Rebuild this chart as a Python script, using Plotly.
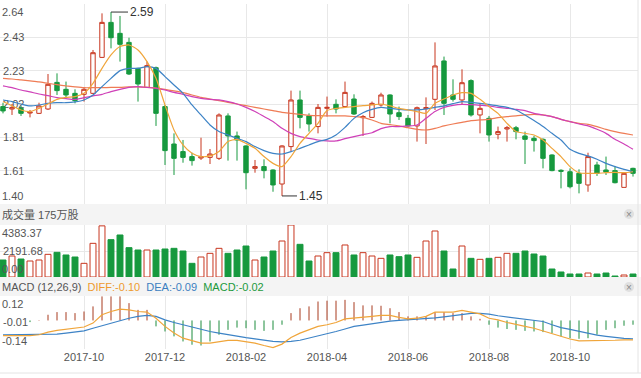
import numpy as np
import plotly.graph_objects as go

# ---------------- data (weekly bars) ----------------
weeks = list(range(71))
open_ = [2.004,1.989,1.993,1.964,1.962,1.989,2.154,2.111,2.086,2.080,
         2.086,2.309,2.526,2.458,2.402,2.241,2.123,2.245,2.004,1.772,
         1.725,1.694,1.685,1.689,1.683,1.946,1.822,1.760,1.621,1.632,
         1.611,1.524,1.756,2.045,1.946,1.880,1.993,2.018,2.004,2.051,
         1.935,1.937,2.014,2.076,1.966,1.931,1.884,1.991,2.049,2.287,
         2.076,2.045,2.165,1.952,1.931,1.832,1.865,1.873,1.822,1.807,
         1.801,1.704,1.609,1.600,1.590,1.518,1.642,1.611,1.607,1.503,
         1.621]
high = [2.028,2.020,2.008,1.983,2.028,2.206,2.210,2.159,2.111,2.123,
        2.355,2.582,2.590,2.566,2.431,2.245,2.283,2.252,2.014,1.838,
        1.797,1.718,1.811,1.741,1.962,1.962,1.849,1.764,1.673,1.677,
        1.615,1.764,2.103,2.103,1.962,2.020,2.066,2.049,2.159,2.080,
        1.952,2.035,2.090,2.080,2.004,1.952,2.004,2.061,2.402,2.314,
        2.173,2.235,2.173,2.020,1.946,1.880,1.884,1.884,1.849,1.822,
        1.807,1.708,1.615,1.621,1.615,1.718,1.662,1.694,1.636,1.594,
        1.625]
low = [1.962,1.952,1.946,1.937,1.958,1.983,2.076,2.061,2.024,2.035,
       2.082,2.305,2.365,2.283,2.200,2.035,2.119,1.884,1.642,1.580,
       1.656,1.638,1.673,1.648,1.673,1.669,1.669,1.491,1.594,1.559,
       1.476,1.450,1.725,1.869,1.849,1.838,1.942,1.962,1.999,1.952,
       1.822,1.933,2.004,1.900,1.921,1.880,1.787,1.772,1.983,1.952,
       2.035,2.014,1.942,1.838,1.787,1.801,1.787,1.801,1.648,1.725,
       1.621,1.603,1.497,1.497,1.466,1.476,1.574,1.580,1.528,1.503,
       1.570]
close = [1.977,1.997,1.962,1.970,2.008,2.142,2.103,2.076,2.041,2.111,
         2.338,2.526,2.431,2.390,2.206,2.144,2.258,1.962,1.731,1.683,
         1.689,1.669,1.694,1.710,1.952,1.822,1.797,1.594,1.632,1.607,
         1.518,1.760,2.045,1.937,1.896,1.999,1.999,1.989,2.092,1.958,
         1.942,2.024,2.076,1.958,1.942,1.884,1.997,1.997,2.256,2.024,
         2.049,2.152,1.952,1.993,1.828,1.849,1.873,1.849,1.801,1.793,
         1.683,1.607,1.603,1.507,1.528,1.694,1.590,1.598,1.532,1.590,
         1.590]
volume = [1433,1770,1517,1349,1433,1911,2079,1855,1686,1152,
          2838,4310,3147,3541,2473,2276,2276,2276,2360,2417,
          2192,1152,1686,1995,2417,1995,2276,2613,1433,1686,
          2192,3035,4383.37,2754,1349,1770,2051,2051,2698,1855,
          2051,1770,1574,1855,1714,1855,1658,3035,3878,2192,
          674,2613,1574,1489,1574,1658,1995,1995,2192,1939,
          1770,674,422,253,253,337,253,337,84,169,
          253]
ma5 = [2.035,2.008,1.983,1.973,1.993,2.020,2.049,2.061,2.066,2.086,
       2.148,2.241,2.324,2.376,2.386,2.355,2.283,2.179,2.014,1.859,
       1.766,1.714,1.694,1.698,1.725,1.787,1.801,1.776,1.745,1.694,
       1.652,1.632,1.694,1.776,1.838,1.900,1.979,1.993,1.999,2.004,
       2.010,2.014,2.020,2.008,1.993,1.983,1.973,1.962,2.024,2.051,
       2.076,2.090,2.086,2.049,2.004,1.962,1.900,1.849,1.838,1.828,
       1.797,1.745,1.694,1.632,1.594,1.590,1.590,1.594,1.596,1.594,
       1.600]
ma10 = [2.045,2.035,2.020,2.008,2.014,2.024,2.028,2.028,2.033,2.045,
        2.076,2.128,2.179,2.227,2.241,2.241,2.252,2.241,2.190,2.138,
        2.086,2.014,1.952,1.890,1.849,1.828,1.807,1.787,1.756,1.731,
        1.714,1.710,1.725,1.745,1.766,1.787,1.801,1.828,1.875,1.931,
        1.966,1.987,1.999,1.993,1.987,1.983,1.983,1.989,1.999,2.008,
        2.022,2.035,2.030,2.024,2.018,2.008,1.999,1.983,1.952,1.917,
        1.880,1.838,1.797,1.739,1.714,1.698,1.677,1.652,1.632,1.615,
        1.600]
ma20 = [2.132,2.121,2.107,2.095,2.082,2.072,2.059,2.053,2.049,2.059,
        2.070,2.080,2.097,2.111,2.123,2.128,2.123,2.117,2.107,2.092,
        2.080,2.066,2.055,2.049,2.045,2.035,2.020,1.999,1.973,1.942,
        1.911,1.869,1.838,1.818,1.807,1.797,1.791,1.791,1.805,1.818,
        1.830,1.842,1.867,1.880,1.880,1.884,1.890,1.931,1.973,1.999,
        2.012,2.018,2.016,2.012,2.008,1.999,1.993,1.987,1.979,1.962,
        1.952,1.942,1.925,1.911,1.896,1.884,1.863,1.838,1.801,1.772,
        1.739]
ma30 = [2.179,2.175,2.169,2.163,2.157,2.148,2.140,2.132,2.126,2.121,
        2.121,2.121,2.123,2.123,2.126,2.126,2.123,2.119,2.111,2.101,
        2.090,2.076,2.061,2.051,2.041,2.030,2.020,2.010,1.999,1.989,
        1.979,1.968,1.962,1.956,1.950,1.948,1.946,1.946,1.946,1.942,
        1.937,1.921,1.900,1.892,1.884,1.873,1.863,1.859,1.869,1.884,
        1.896,1.906,1.917,1.921,1.925,1.935,1.942,1.946,1.952,1.956,
        1.952,1.942,1.925,1.911,1.900,1.894,1.880,1.863,1.849,1.838,
        1.828]
diff = [-0.074,-0.074,-0.074,-0.074,-0.070,-0.057,-0.049,-0.044,-0.039,-0.032,
        -0.013,0.028,0.044,0.056,0.052,0.044,0.041,0.011,-0.029,-0.062,
        -0.087,-0.100,-0.111,-0.111,-0.103,-0.098,-0.098,-0.103,-0.111,-0.123,
        -0.133,-0.116,-0.084,-0.062,-0.046,-0.029,-0.021,-0.010,0.008,0.011,
        0.015,0.020,0.025,0.025,0.015,0.008,0.011,0.020,0.041,0.041,
        0.041,0.049,0.041,0.032,0.011,0.003,-0.010,-0.021,-0.029,-0.038,
        -0.051,-0.062,-0.078,-0.091,-0.100,-0.100,-0.098,-0.098,-0.097,-0.095,
        -0.095]
dea = [-0.070,-0.070,-0.070,-0.070,-0.070,-0.069,-0.067,-0.062,-0.057,-0.051,
       -0.038,-0.026,-0.013,0.000,0.011,0.020,0.025,0.020,0.003,-0.010,
       -0.021,-0.035,-0.046,-0.054,-0.062,-0.070,-0.078,-0.084,-0.090,-0.097,
       -0.103,-0.105,-0.103,-0.097,-0.087,-0.077,-0.067,-0.054,-0.042,-0.029,
       -0.023,-0.017,-0.008,-0.003,0.000,0.003,0.007,0.008,0.013,0.018,
       0.023,0.028,0.035,0.035,0.031,0.023,0.018,0.013,0.007,0.002,
       -0.005,-0.021,-0.035,-0.044,-0.054,-0.064,-0.072,-0.078,-0.084,-0.088,
       -0.090]
macd_hist = [0.000,0.000,0.000,-0.008,0.002,0.028,0.041,0.041,0.036,0.044,
             0.069,0.118,0.118,0.118,0.085,0.052,0.052,-0.029,-0.054,-0.078,
             -0.103,-0.119,-0.123,-0.103,-0.070,-0.046,-0.035,-0.038,-0.046,-0.051,
             -0.046,-0.021,0.036,0.060,0.069,0.093,0.097,0.097,0.101,0.090,
             0.074,0.074,0.072,0.060,0.041,0.020,0.020,0.020,0.041,0.041,
             0.036,0.036,0.020,0.008,-0.021,-0.035,-0.042,-0.046,-0.051,-0.054,
             -0.057,-0.062,-0.078,-0.087,-0.090,-0.087,-0.070,-0.046,-0.038,-0.026,
             -0.021]

price_labels = ["1.40", "1.61", "1.81", "2.02", "2.23", "2.43", "2.64"]
vol_labels = ["0.00", "2191.68", "4383.37"]
macd_labels = ["-0.14", "-0.01", "0.12"]
date_pos = [9, 18, 27, 36, 45, 54, 63]
date_labels = ["2017-10", "2017-12", "2018-02", "2018-04", "2018-06", "2018-08", "2018-10"]
vol_title = "成交量 175万股"
macd_title = ("MACD (12,26,9)", "DIFF:-0.10", "DEA:-0.09", "MACD:-0.02")

# ---------------- style ----------------
W, H = 641, 378
FONT = "Liberation Sans, Arial, Noto Sans CJK SC"
RED = "#c8361f"
GREEN = "#16993e"
GRID = "#e8e8e8"
BAND = "#f4f4f4"
C_MA5, C_MA10, C_MA20, C_MA30 = "#f0a53a", "#3d83c6", "#cf40b8", "#ef7c55"
TXT = "#555555"

def py(px):  # pixel row -> paper y
    return 1 - px / H

XD = 638 / W
XR = [-1 / 3, 70.556]
main_dom = [py(204), py(4)]
vol_dom = [py(277), py(225)]
macd_dom = [py(349), py(296)]

fig = go.Figure()

# candles
fig.add_trace(go.Candlestick(
    x=weeks, open=open_, high=high, low=low, close=close,
    increasing=dict(line=dict(color=RED, width=1), fillcolor="white"),
    decreasing=dict(line=dict(color=GREEN, width=1), fillcolor=GREEN),
    whiskerwidth=0, hoverinfo="skip", xaxis="x", yaxis="y"))

for vals, col in [(ma30, C_MA30), (ma20, C_MA20), (ma10, C_MA10), (ma5, C_MA5)]:
    fig.add_trace(go.Scatter(x=weeks, y=vals, mode="lines",
                             line=dict(color=col, width=1.2, shape="spline", smoothing=0.6),
                             hoverinfo="skip", xaxis="x", yaxis="y"))

# volume
up = [c >= o for o, c in zip(open_, close)]
fig.add_trace(go.Bar(
    x=weeks, y=volume, width=0.66,
    marker=dict(color=["white" if u else GREEN for u in up],
                line=dict(color=[RED if u else GREEN for u in up], width=1)),
    hoverinfo="skip", xaxis="x2", yaxis="y2"))

# MACD histogram as thin sticks
for sign, col in [(1, "#a83a1f"), (-1, "#1c8c3c")]:
    xs, ys = [], []
    for k, v in zip(weeks, macd_hist):
        if v * sign > 0:
            xs += [k, k, None]
            ys += [0, v, None]
    fig.add_trace(go.Scatter(x=xs, y=ys, mode="lines", line=dict(color=col, width=1),
                             hoverinfo="skip", xaxis="x3", yaxis="y3"))
fig.add_trace(go.Scatter(x=weeks, y=dea, mode="lines", line=dict(color=C_MA10, width=1.2),
                         hoverinfo="skip", xaxis="x3", yaxis="y3"))
fig.add_trace(go.Scatter(x=weeks, y=diff, mode="lines", line=dict(color=C_MA5, width=1.2),
                         hoverinfo="skip", xaxis="x3", yaxis="y3"))

# ---------------- axes ----------------
xcommon = dict(domain=[0, XD], range=XR, tickvals=date_pos, showgrid=True, gridcolor=GRID,
               gridwidth=1, zeroline=False, showline=False, ticks="", fixedrange=True)
p_lo, p_hi = float(price_labels[0]), float(price_labels[-1])
p_vals = list(np.linspace(p_lo, p_hi, len(price_labels)))
v_vals = [float(s) for s in vol_labels]
m_vals = [float(s) for s in macd_labels]

def inner(labels):
    return [""] + labels[1:-1] + [""]

ycommon = dict(zeroline=False, showline=False, ticks="", ticklabelposition="inside",
               layer="below traces", gridcolor=GRID, fixedrange=True,
               tickfont=dict(size=11, color=TXT))

fig.update_layout(
    width=W, height=H, margin=dict(l=0, r=0, t=0, b=0), autosize=False,
    paper_bgcolor="white", plot_bgcolor="white", showlegend=False,
    font=dict(family=FONT, size=11, color=TXT),
    xaxis=dict(**xcommon, anchor="y", showticklabels=False, rangeslider=dict(visible=False)),
    yaxis=dict(**ycommon, domain=main_dom, range=[p_lo, p_hi], tickvals=p_vals,
               ticktext=inner(price_labels), anchor="x"),
    xaxis2=dict(**xcommon, anchor="y2", showticklabels=False),
    yaxis2=dict(**ycommon, domain=vol_dom, range=[v_vals[0], v_vals[-1]], tickvals=v_vals,
                ticktext=inner(vol_labels), anchor="x2"),
    xaxis3=dict(**xcommon, anchor="y3", showticklabels=True, ticktext=date_labels,
                tickfont=dict(size=11, color=TXT)),
    yaxis3=dict(**ycommon, domain=macd_dom, range=[m_vals[0], m_vals[-1]], tickvals=m_vals,
                ticktext=inner(macd_labels), anchor="x3", showgrid=False),
)

shapes = []
# header bands
for top, bot in [(204, 225), (277, 296)]:
    shapes.append(dict(type="rect", xref="paper", yref="paper", x0=0, x1=1,
                       y0=py(bot), y1=py(top), fillcolor=BAND, line=dict(width=0), layer="below"))
# close buttons
for cy in (214, 287):
    shapes.append(dict(type="circle", xref="paper", yref="paper",
                       x0=624 / W, x1=634 / W, y0=py(cy + 5), y1=py(cy - 5),
                       fillcolor="#e0e0e0", line=dict(width=0)))
# right border & bottom line
shapes.append(dict(type="line", xref="paper", yref="paper", x0=XD, x1=XD, y0=py(373), y1=1,
                   line=dict(color="#e4e4e4", width=1)))
shapes.append(dict(type="line", xref="paper", yref="paper", x0=0, x1=1, y0=py(373), y1=py(373),
                   line=dict(color="#e4e4e4", width=1)))
fig.update_layout(shapes=shapes)

ann = []
# edge axis labels (top below the line, bottom above the line)
for lab, val, yref in [(price_labels[-1], p_hi, "y"), (vol_labels[-1], v_vals[-1], "y2"),
                       (macd_labels[-1], m_vals[-1], "y3")]:
    ann.append(dict(text=lab, xref="paper", x=0, xanchor="left", yref=yref, y=val,
                    yanchor="top", showarrow=False, font=dict(size=11, color=TXT)))
for lab, val, yref in [(price_labels[0], p_lo, "y"), (vol_labels[0], v_vals[0], "y2"),
                       (macd_labels[0], m_vals[0], "y3")]:
    ann.append(dict(text=lab, xref="paper", x=0, xanchor="left", yref=yref, y=val,
                    yanchor="bottom", showarrow=False, font=dict(size=11, color=TXT)))
# panel headers
ann.append(dict(text=vol_title, xref="paper", x=0, xanchor="left", yref="paper", y=py(214),
                yanchor="middle", showarrow=False, font=dict(size=11, color=TXT)))
sp = "\u00a0\u00a0"
macd_txt = (f"<span style='color:{TXT}'>{macd_title[0]}</span>{sp}"
            f"<span style='color:#ee9a2e'>{macd_title[1]}</span>{sp}"
            f"<span style='color:#3d7fc0'>{macd_title[2]}</span>{sp}"
            f"<span style='color:#1d9a3c'>{macd_title[3]}</span>")
ann.append(dict(text=macd_txt, xref="paper", x=0, xanchor="left", yref="paper", y=py(287),
                yanchor="middle", showarrow=False, font=dict(size=11)))
for cy in (214, 287):
    ann.append(dict(text="×", xref="paper", x=629 / W, yref="paper", y=py(cy),
                    xanchor="center", yanchor="middle", showarrow=False,
                    font=dict(size=10, color="#888888")))
# high / low markers
hi_k = int(np.argmax(high))
lo_k = int(np.argmin(low))
ann.append(dict(x=hi_k, y=high[hi_k], xref="x", yref="y", text=f"{high[hi_k]:.2f}",
                showarrow=True, arrowhead=0, arrowwidth=1, arrowcolor="#333333",
                ax=17, ay=0, xanchor="left", standoff=0,
                font=dict(size=12, color="#333333")))
ann.append(dict(x=lo_k, y=low[lo_k], xref="x", yref="y", text=f"{low[lo_k]:.2f}",
                showarrow=True, arrowhead=0, arrowwidth=1, arrowcolor="#333333",
                ax=15, ay=0, xanchor="left", standoff=0,
                font=dict(size=12, color="#333333")))
fig.update_layout(annotations=ann)

fig.write_html("out.html")
